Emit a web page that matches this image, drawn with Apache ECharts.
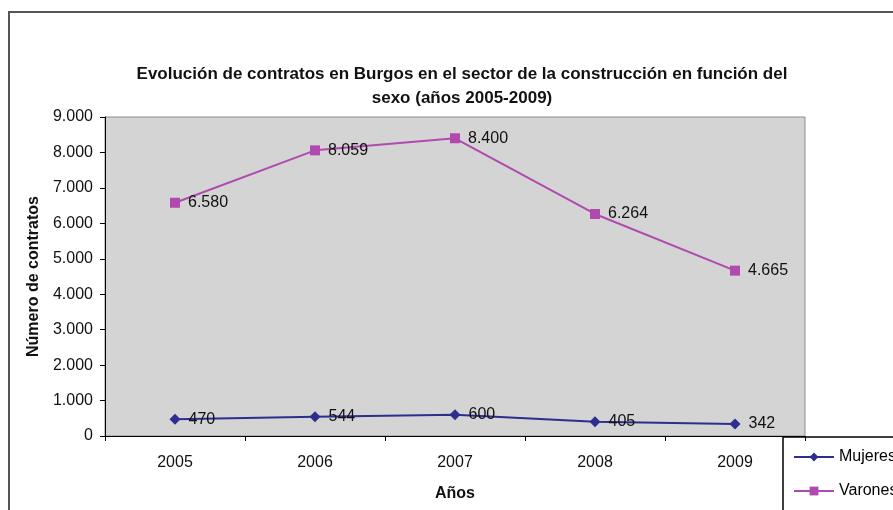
<!DOCTYPE html>
<html>
<head>
<meta charset="utf-8">
<script src="https://cdn.jsdelivr.net/npm/echarts@6/dist/echarts.min.js"></script>
<style>
  html, body { margin: 0; padding: 0; background: #fff; }
  #main { width: 893px; height: 510px; }
</style>
</head>
<body>
<div id="main"></div>
<script>
const years = ['2005', '2006', '2007', '2008', '2009'];
const mujeres = [470, 544, 600, 405, 342];
const varones = [6580, 8059, 8400, 6264, 4665];

// separador de miles con punto
function fmt(v) {
  return String(v).replace(/\B(?=(\d{3})+(?!\d))/g, '.');
}

const chart = echarts.init(document.getElementById('main'));

const option = {
  backgroundColor: '#fff',
  animation: false,
  textStyle: { fontFamily: 'Liberation Sans, Arial, sans-serif' },
  title: {
    text: 'Evolución de contratos en Burgos en el sector de la construcción en función del\nsexo (años 2005-2009)',
    left: 457,
    top: 57,
    textAlign: 'center',
    textStyle: { fontSize: 17, fontWeight: 'bold', color: '#111', lineHeight: 24 }
  },
  grid: {
    left: 105,
    right: 88,
    top: 117,
    bottom: 74,
    outerBoundsMode: 'none',
    show: true,
    backgroundColor: '#d4d4d4',
    borderColor: '#8c8c8c',
    borderWidth: 1
  },
  legend: {
    orient: 'vertical',
    left: 783,
    top: 437,
    itemWidth: 40,
    itemHeight: 11,
    itemGap: 18,
    padding: [12, 20, 0, 10],
    textStyle: { fontSize: 16, color: '#000' },
    data: ['Mujeres', 'Varones']
  },
  xAxis: {
    type: 'category',
    data: years,
    name: 'Años',
    nameLocation: 'middle',
    nameGap: 50,
    nameTextStyle: { fontSize: 16, fontWeight: 'bold', color: '#111' },
    axisLine: { lineStyle: { color: '#000' } },
    axisTick: { show: true, lineStyle: { color: '#000' } },
    axisLabel: { fontSize: 16, color: '#111', margin: 19 }
  },
  yAxis: {
    type: 'value',
    min: 0,
    max: 9000,
    interval: 1000,
    name: 'Número de contratos',
    nameLocation: 'middle',
    nameGap: 62,
    nameTextStyle: { fontSize: 16, fontWeight: 'bold', color: '#111' },
    axisLine: { show: true, lineStyle: { color: '#000' } },
    axisTick: { show: true, lineStyle: { color: '#000' } },
    splitLine: { show: false },
    axisLabel: { fontSize: 16, color: '#111', margin: 12, formatter: fmt }
  },
  series: [
    {
      name: 'Mujeres',
      type: 'line',
      data: mujeres,
      symbol: 'diamond',
      symbolSize: 11,
      color: '#2e2e8f',
      lineStyle: { width: 2, color: '#2e2e8f' },
      label: { show: true, position: 'right', distance: 8, fontSize: 16, color: '#111', formatter: p => fmt(p.value) }
    },
    {
      name: 'Varones',
      type: 'line',
      data: varones,
      symbol: 'rect',
      symbolSize: 10,
      color: '#b04aae',
      lineStyle: { width: 2, color: '#b04aae' },
      label: { show: true, position: 'right', distance: 8, fontSize: 16, color: '#111', formatter: p => fmt(p.value) }
    }
  ],
  graphic: [
    {
      type: 'polyline',
      shape: { points: [[9, 510], [9, 12], [893, 12]] },
      style: { stroke: '#555', lineWidth: 2, fill: null }
    },
    {
      type: 'rect',
      z: -1,
      shape: { x: 783, y: 437, width: 130, height: 90 },
      style: { stroke: '#000', lineWidth: 1.5, fill: '#fff' }
    }
  ]
};

chart.setOption(option);
</script>
</body>
</html>
